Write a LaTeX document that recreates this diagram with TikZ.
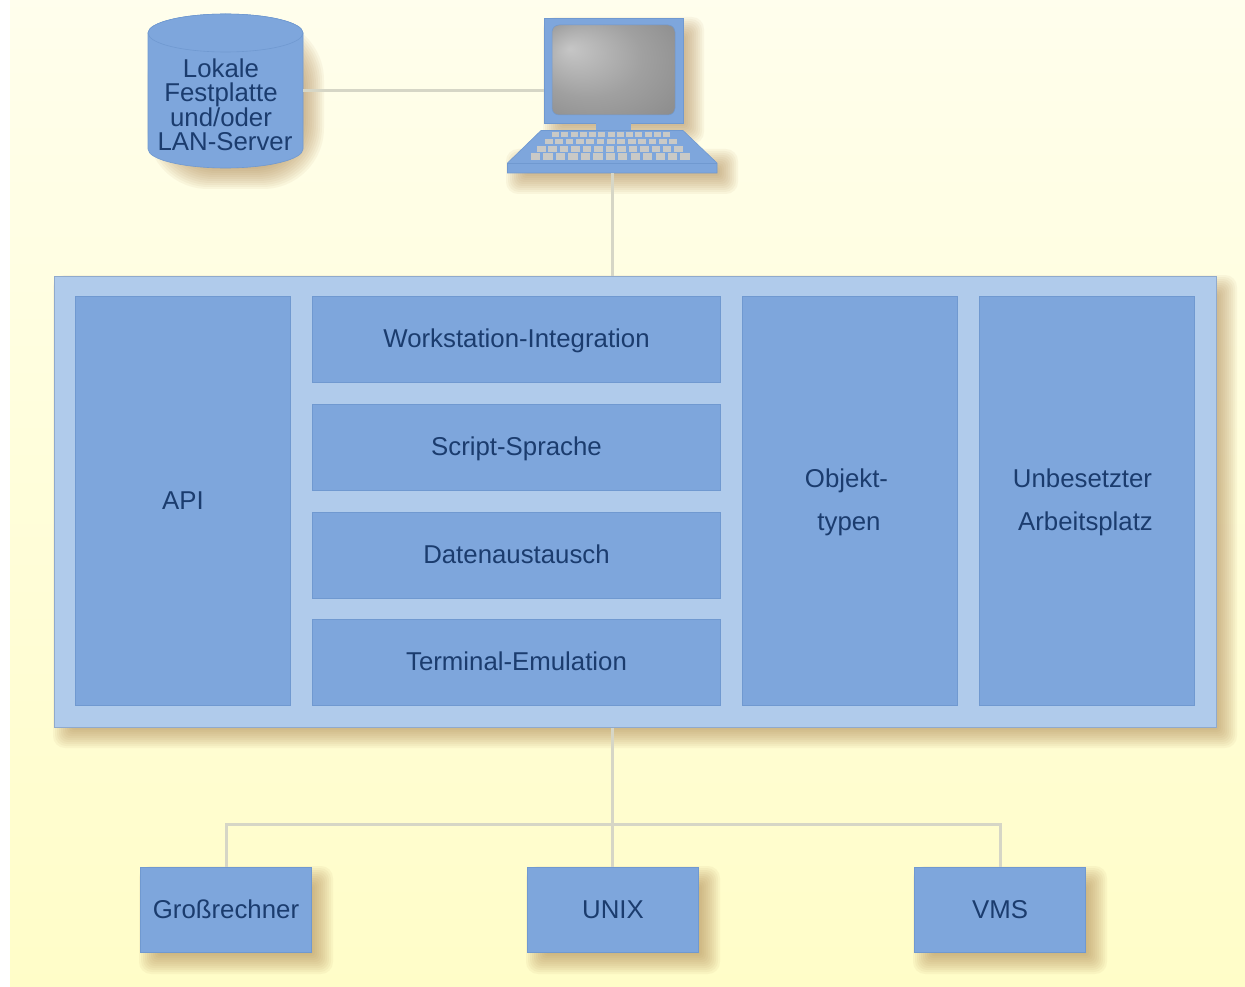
\documentclass[tikz,border=0pt]{standalone}
\usepackage{fontspec}
\setmainfont{Liberation Sans}
\usetikzlibrary{calc}
\definecolor{boxblue}{HTML}{7EA6DC}
\definecolor{paleblue}{HTML}{B0CBEB}
\definecolor{edgeblue}{HTML}{7099D0}
\definecolor{softedge}{HTML}{90AACC}
\definecolor{inkblue}{HTML}{1B3C6E}
\definecolor{linegray}{HTML}{D6D6C6}
\definecolor{shadowtan}{HTML}{A67C45}
\definecolor{keygray}{HTML}{C9C9C6}
\definecolor{bgA}{HTML}{FFFFFB}
\definecolor{bgB}{HTML}{FFFEEA}
\definecolor{bgC}{HTML}{FFFDC8}
\definecolor{scrA}{HTML}{C6C6C6}
\definecolor{scrB}{HTML}{A0A0A0}
\definecolor{scrC}{HTML}{8E8E8E}
\pgfdeclareradialshading{screenglow}{\pgfpoint{-18bp}{12bp}}{color(0bp)=(scrA);color(22bp)=(scrB);color(38bp)=(scrC);color(50bp)=(scrC)}
\pgfdeclareverticalshading{pagewash}{100bp}{color(0bp)=(bgC);color(25bp)=(bgC);color(72bp)=(bgB);color(90bp)=(bgA);color(100bp)=(bgA)}
\newcommand{\softshade}[5][1]{%
  \foreach \i in {0,...,10}{%
    \fill[shadowtan,opacity=0.062,rounded corners={(11-\i)*1pt+#1pt}]
      ({#2+10-11+2*\i},{#3+10-11+2*\i}) rectangle ({#4+10+11-2*\i},{#5+10+11-2*\i});
  }}
\newcommand{\pad}[1]{\rule{#1}{0pt}}
\tikzset{
  panel/.style={draw=edgeblue,line width=.8pt,fill=boxblue,text=inkblue,inner sep=0pt,align=center,
    font=\fontsize{25.8}{43}\selectfont},
  oneline/.style={text height=16.8pt,text depth=0pt},
  outerpanel/.style={draw=softedge,line width=1pt,fill=paleblue,inner sep=0pt},
  twolines/.style={text=inkblue,inner sep=0pt,align=center,font=\fontsize{25.8}{43}\selectfont},
  link/.style={draw=linegray,line width=3pt},
  bare/.style={inner sep=0pt},
  disklabel/.style={text=inkblue,inner sep=0pt,align=center,font=\fontsize{25.8}{24}\selectfont},
  partfill/.style={fill=boxblue,draw=edgeblue,line width=.6pt},
}
\begin{document}
\begin{tikzpicture}[x=1pt,y=-1pt]
\useasboundingbox (0,0) rectangle (1245,987);
\fill[white] (0,0) rectangle (1245,987);
\path[shading=pagewash,shading angle=0] (10,0) rectangle (1245,987);
% shadows
\softshade{54}{276}{1216}{727}
\softshade[50]{148}{20}{303}{168}
\softshade{544}{18}{683}{123}
\softshade{507}{150}{717}{173}
\softshade{140}{867}{312}{953}
\softshade{527}{867}{699}{953}
\softshade{914}{867}{1086}{953}
% main panel
\node[outerpanel,minimum width=1162pt,minimum height=451pt] (main) at (635,501.5) {};
\node[panel,oneline,minimum width=215.5pt,minimum height=409.5pt] (api) at (183,501) {API};
\node[panel,oneline,minimum width=408.5pt,minimum height=86.5pt] (ws) at (516.5,339.5) {Workstation-Integration};
\node[panel,oneline,minimum width=408.5pt,minimum height=86.5pt] (script) at (516.5,447.5) {Script-Sprache};
\node[panel,oneline,minimum width=408.5pt,minimum height=86.5pt] (data) at (516.5,555.5) {Datenaustausch};
\node[panel,oneline,minimum width=408.5pt,minimum height=86.5pt] (term) at (516.5,662.5) {Terminal-Emulation};
\node[panel,minimum width=215.5pt,minimum height=409.5pt] (obj) at (850,501) {};
\node[twolines] (objtext) at (849,502) {Objekt-\pad{5pt}\\typen};
\node[panel,minimum width=215.5pt,minimum height=409.5pt] (free) at (1087,501) {};
\node[twolines] (freetext) at (1084,502) {Unbesetzter\pad{3pt}\\\pad{3pt}Arbeitsplatz};
% bottom boxes
\node[panel,oneline,minimum width=171.5pt,minimum height=85.5pt] (gross) at (226,910) {Großrechner};
\node[panel,oneline,minimum width=171.5pt,minimum height=85.5pt] (unix) at (613,910) {UNIX};
\node[panel,oneline,minimum width=171.5pt,minimum height=85.5pt] (vms) at (1000,910) {VMS};
% disk
\node[bare,minimum width=155pt,minimum height=154pt] (disk) at (225.5,91) {};
\path[partfill] (148,33) -- (148,149) arc[start angle=180,end angle=360,x radius=77.5,y radius=-19]
  -- (303,33) arc[start angle=0,end angle=180,x radius=77.5,y radius=-19] -- cycle;
\path[partfill] (225.5,33) ellipse[x radius=77.5,y radius=19];
\node[disklabel] (disktext) at (225,105) {Lokale\pad{8pt}\\Festplatte\pad{8pt}\\und/oder\pad{8pt}\\LAN-Server};
% laptop
\node[partfill,inner sep=0pt,minimum width=139pt,minimum height=105pt] (monitor) at (613.5,70.5) {};
\path[shading=screenglow,draw=edgeblue,line width=.5pt,rounded corners=7pt] (552,25) rectangle (675,115);
\path[partfill,draw=none] (596,122) rectangle (631,131);
\path[partfill] (541,130.5) -- (683,130.5) -- (717,163) -- (717,173) -- (507.5,173) -- (507.5,163) -- cycle;
\draw[edgeblue,line width=1pt] (507.5,164) -- (717,164);
\node[bare,minimum width=209pt,minimum height=10pt] (base) at (612.2,168) {};
\draw[keygray,line width=4.7pt,dash pattern=on 7pt off 2.25pt] (552,134.3) -- (670,134.3);
\draw[keygray,line width=5.3pt,dash pattern=on 7.7pt off 2.65pt] (545,141.6) -- (677,141.6);
\draw[keygray,line width=5.7pt,dash pattern=on 8.5pt off 2.95pt] (537,148.8) -- (683,148.8);
\draw[keygray,line width=7pt,dash pattern=on 9.3pt off 3.15pt] (531,156.5) -- (690,156.5);
% connectors
\coordinate (bus) at (612,824);
\draw[link] (disk.east) -- (disk.east -| monitor.west);
\draw[link] (base.south -| bus) -- (main.north -| bus);
\draw[link] (main.south -| bus) -- (unix.north -| bus);
\draw[link] (gross.north) |- (bus) -| (vms.north);
\end{tikzpicture}
\end{document}
